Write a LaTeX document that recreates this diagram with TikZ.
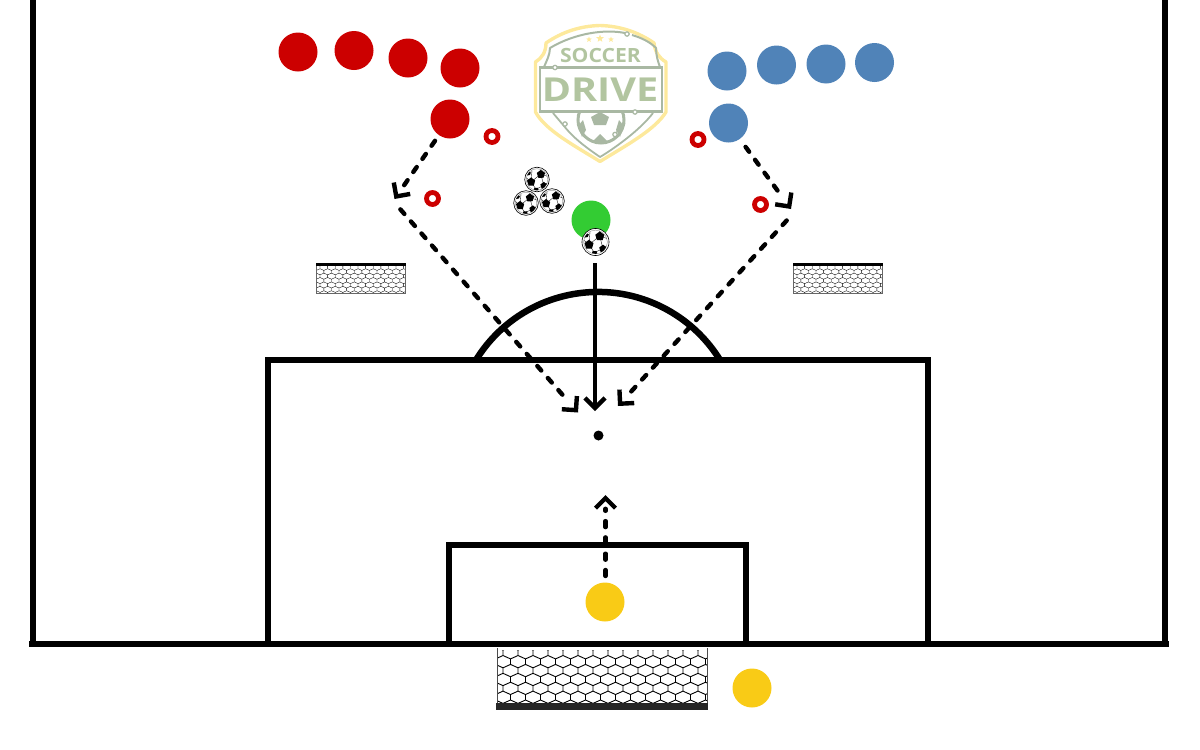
\documentclass[tikz,border=0pt]{standalone}
\usepackage{fontspec}
\setmainfont{Open Sans}
\usetikzlibrary{arrows.meta,calc,shapes.geometric}
\definecolor{pred}{HTML}{CC0000}
\definecolor{pblue}{HTML}{5083B8}
\definecolor{pgreen}{HTML}{33CC33}
\definecolor{pyellow}{HTML}{F9CB16}
\definecolor{lgold}{HTML}{FDE99C}
\definecolor{lgreen}{HTML}{B2C5A0}
\definecolor{lgrey}{HTML}{A9B8A3}
\tikzset{
  x=1pt,y=-1pt,
  player/.style={circle,minimum size=39pt,inner sep=0pt,fill=#1,draw=none},
  cone/.style={circle,minimum size=12pt,inner sep=0pt,draw=pred,line width=4.8pt,fill=white},
  field/.style={line width=6.6pt,draw=black},
  run/.style={line width=4.4pt,line cap=round,-{Straight Barb[length=10pt,width=20pt,line width=4.4pt]}},
  dashfour/.style={dash pattern=on 6pt off 10pt on 6pt off 10pt on 6pt off 10pt on 6pt off 90pt},
  dashgk/.style={dash pattern=on 6pt off 10.3pt on 6pt off 10.3pt on 6pt off 10.3pt on 6pt off 10.3pt on 2pt off 90pt},
  dashfifteen/.style={dash pattern=on 6pt off 10.07pt on 6pt off 10.07pt on 6pt off 10.07pt on 6pt off 10.07pt on 6pt off 10.07pt on 6pt off 10.07pt on 6pt off 10.07pt on 6pt off 10.07pt on 6pt off 10.07pt on 6pt off 10.07pt on 6pt off 10.07pt on 6pt off 10.07pt on 6pt off 10.07pt on 6pt off 10.07pt on 6pt off 90pt},
  dashsixteen/.style={dash pattern=on 6pt off 10pt on 6pt off 10pt on 6pt off 10pt on 6pt off 10pt on 6pt off 10pt on 6pt off 10pt on 6pt off 10pt on 6pt off 10pt on 6pt off 10pt on 6pt off 10pt on 6pt off 10pt on 6pt off 10pt on 6pt off 10pt on 6pt off 10pt on 6pt off 10pt on 6pt off 90pt},
  shot/.style={line width=4.4pt,-{Straight Barb[length=10pt,width=20pt,line width=4.4pt]}},
  ballbase/.style={circle,minimum size=24.6pt,inner sep=0pt,fill=white,draw=black,line width=.6pt},
  logoknob/.style={circle,minimum size=4.4pt,inner sep=0pt,fill=white,draw=lgrey,line width=1.2pt},
  logostar/.style={star,star points=5,star point ratio=2.3,fill=lgold,inner sep=0pt},
}
% ball drawn at a named node: name, position, scale
\newcommand{\soccerball}[3]{%
  \node[ballbase,scale=#3] (#1) at (#2) {};
  \begin{scope}[shift={(#2)},scale=#3]
    \draw[black!45,line width=.4pt] (0,0) circle (10.8);
    \begin{scope}
    \clip (0,0) circle (10.8);
    \draw[black,line width=.35pt] (3.8,-5.5) -- (-6,2.5) -- (-1,9.6) -- (6.8,6) -- cycle;
    \draw[black,line width=.35pt] (3.8,-5.5) -- (4,-12) (3.8,-5.5) -- (11,-3) (-6,2.5) -- (-11,-2) (-6,2.5) -- (-5,-9) (6.8,6) -- (11,3);
    \fill (3.8,-9.6) -- (8,-6.6) -- (6.6,-1.8) -- (1.4,-1.6) -- (-.2,-6.6) -- cycle;
    \fill (-6,-2) -- (-1.8,1) -- (-3.2,6) -- (-8.4,6) -- (-10,1) -- cycle;
    \fill (6.8,2.4) -- (10.2,5) -- (9,9) -- (4.6,9) -- (3.4,5) -- cycle;
    \fill (-2.6,8.4) -- (1,8.4) -- (2,12) -- (-4,12) -- cycle;
    \fill (-9,-8) -- (-6,-7) -- (-7,-4.6) -- (-10,-4) -- cycle;
    \end{scope}
  \end{scope}}
% hexagon net: x0 y0 x1 y1 col-period row-period line width
\newcommand{\hexnet}[7]{%
  \begin{scope}
    \clip (#1,#2) rectangle (#3,#4);
    \pgfmathtruncatemacro{\cols}{(#3-#1)/#5+2}
    \pgfmathtruncatemacro{\rows}{(#4-#2)/#6+2}
    \foreach \r in {0,...,\rows}{
      \foreach \c in {0,...,\cols}{
        \pgfmathsetmacro{\hx}{#1+(\c-1.6)*#5+mod(\r,2)*#5/2}
        \pgfmathsetmacro{\hy}{#2+\r*#6}
        \draw[line width=#7,black,line join=round] (\hx,\hy) -- (\hx+#5/2,\hy-.38*#6) -- (\hx+#5,\hy) -- (\hx+#5,\hy+.62*#6);
      }
    }
  \end{scope}}
\begin{document}
\begin{tikzpicture}
\useasboundingbox (0,0) rectangle (1200,750);
% logo
\begin{scope}
  \draw[lgold,line width=3.4pt,line join=round] (600,25.5) .. controls (580,26) and (562,32) .. (546,43) .. controls (546,52) and (542,58) .. (535.5,62) -- (535.5,112) .. controls (545,130) and (575,146) .. (600,161.5) .. controls (625,146) and (655,130) .. (666,112) -- (666,62) .. controls (659,58) and (655,52) .. (654,43) .. controls (638,32) and (620,26) .. (600,25.5) -- cycle;
  \draw[lgrey,line width=2pt,line join=round] (625,33) .. controls (605,29) and (575,33) .. (550,48) .. controls (550,55) and (546,62) .. (544,67);
  \draw[lgrey,line width=2pt] (632,35) .. controls (642,38) and (650,42) .. (656,48) .. controls (656,55) and (658,62) .. (660,67);
  \draw[lgrey,line width=2.2pt] (540,67.5) -- (662,67.5) -- (662,111.5) -- (540,111.5) -- cycle;
  \begin{scope}
    \clip (540,112.5) rectangle (660,150);
    \draw[lgrey,line width=3pt] (601,120) circle (23);
    \fill[lgrey] (600,112) -- (609,117) -- (606,125) -- (594,125) -- (591,117) -- cycle;
    \fill[lgrey] (600,134) -- (608,142) -- (592,142) -- cycle;
    \fill[lgrey] (578,126) -- (583,120) -- (586,130) -- (582,137) -- cycle;
    \fill[lgrey] (624,126) -- (619,120) -- (616,130) -- (620,137) -- cycle;
  \end{scope}
  \draw[lgrey,line width=1.8pt,line join=round] (553,113) -- (564,126) .. controls (575,140) and (590,150) .. (600,157) .. controls (615,148) and (640,130) .. (653,113);
  \draw[lgrey,line width=1.2pt] (615,134) -- (625,123);
  \node[logoknob] (k1) at (555,67.5) {};
  \node[logoknob] (k2) at (627,34) {};
  \node[logoknob] (k3) at (565,124) {};
  \node[logoknob] (k4) at (635,112) {};
  \node[logoknob] (k5) at (615,134.5) {};
  \node[inner sep=0pt,text=lgreen] (logotop) at (600.5,55) {\scalebox{1.08}[1]{\fontsize{19.6}{20}\selectfont\bfseries SOCCER}};
  \node[inner sep=0pt,text=lgreen] (logomain) at (600,90) {\scalebox{1.2}[1]{\fontsize{33}{33}\selectfont\bfseries DRIVE}};
  \node[logostar,minimum size=6pt] (s1) at (589,39.5) {};
  \node[logostar,minimum size=8pt] (s2) at (600,38.5) {};
  \node[logostar,minimum size=6pt] (s3) at (611,39.5) {};
\end{scope}
% goals
\hexnet{497}{650}{707}{704}{15}{8.9}{.9pt}
\draw[line width=.8pt,black!70] (497,648) -- (497,709) (707,648) -- (707,709);
\fill[black!85] (496,703) rectangle (708,709.5);
\hexnet{317}{266}{405}{293}{7.6}{4.4}{.35pt}
\draw[line width=.6pt,black!60] (316.5,263) rectangle (405,293);
\fill[black] (316,263) rectangle (405.5,266);
\hexnet{794}{266}{882}{293}{7.6}{4.4}{.35pt}
\draw[line width=.6pt,black!60] (793.5,263) rectangle (882,293);
\fill[black] (793,263) rectangle (882.5,266);
% field
\draw[field] (33,0) -- (33,644);
\draw[field] (1165,0) -- (1165,644);
\draw[field] (29,644) -- (1169,644);
\draw[field] (268,644) -- (268,360) -- (928,360) -- (928,644);
\draw[field] (449,644) -- (449,545) -- (746,545) -- (746,644);
\draw[line width=6.5pt] (476,360) arc[start angle=148.3,end angle=31.7,radius=143.4pt];
% players
\node[player=pred] (r1) at (298,52) {};
\node[player=pred] (r2) at (354,50.5) {};
\node[player=pred] (r3) at (408,58) {};
\node[player=pred] (r4) at (460,68) {};
\node[player=pred] (r5) at (450,119) {};
\node[player=pblue] (b1) at (727,71) {};
\node[player=pblue] (b2) at (776.5,65) {};
\node[player=pblue] (b3) at (826,64) {};
\node[player=pblue] (b4) at (874.5,62.5) {};
\node[player=pblue] (b5) at (728.5,123) {};
\node[player=pgreen] (g) at (591,220) {};
\node[player=pyellow] (y1) at (605,602) {};
\node[player=pyellow] (y2) at (752,688) {};
% cones
\node[cone] (c1) at (492,136.5) {};
\node[cone] (c2) at (432.5,198.5) {};
\node[cone] (c3) at (698,139.5) {};
\node[cone] (c4) at (760.5,204.5) {};
% balls
\soccerball{ba}{537,179.5}{1}
\soccerball{bb}{526,203}{1}
\soccerball{bc}{552,201}{1}
\soccerball{bd}{595.5,242}{1.1}
% spot
\node[circle,fill=black,minimum size=10pt,inner sep=0pt] (spot) at (598.5,435.5) {};
% connector ends
\coordinate (a1s) at (435,140.8);
\coordinate (a1e) at (394.5,199);
\coordinate (a2s) at (400.4,209.4);
\coordinate (a2e) at (578,412.5);
\coordinate (a3s) at (745.6,146.9);
\coordinate (a3e) at (791,209);
\coordinate (a4s) at (786.7,220.5);
\coordinate (a4e) at (618,406);
\coordinate (a5s) at (595,263);
\coordinate (a5e) at (595,411);
\coordinate (a6s) at (605.5,576);
\coordinate (a6e) at (605.5,495);
\draw[run,dashfour] (a1s) -- (a1e);
\draw[run,dashsixteen] (a2s) -- (a2e);
\draw[run,dashfour] (a3s) -- (a3e);
\draw[run,dashfifteen] (a4s) -- (a4e);
\draw[shot] (a5s) -- (a5e);
\draw[run,dashgk] (a6s) -- (a6e);
\end{tikzpicture}
\end{document}
